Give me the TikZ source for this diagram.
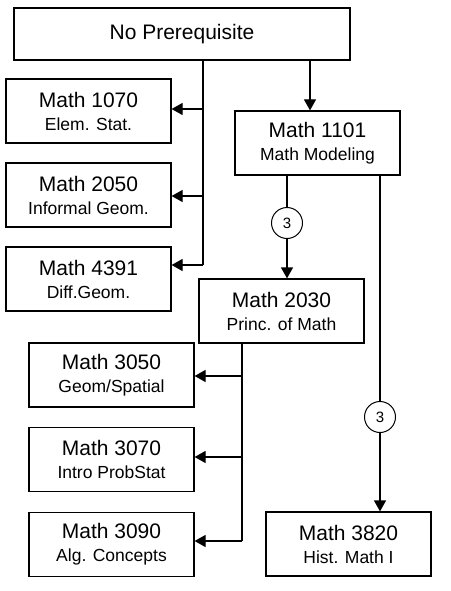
\documentclass[tikz,border=0pt]{standalone}
\usepackage{fontspec}
\setmainfont{Liberation Sans}
\usetikzlibrary{arrows.meta}
\newcommand{\crs}[2]{#1\\[-2pt]{\fontsize{17.5}{21}\selectfont #2}}
\tikzset{
  every path/.style={line width=1.2pt},
  box/.style={draw, line width=1.2pt, minimum width=165pt, minimum height=64pt, inner sep=0pt, align=center, font=\fontsize{21}{25}\selectfont},
  num/.style={draw, circle, line width=1pt, minimum size=31pt, inner sep=0pt, font=\fontsize{15}{18}\selectfont},
  arr/.style={-{Triangle[length=11pt,width=12pt]}},
}
\begin{document}
\begin{tikzpicture}[x=1pt,y=-1pt]
\useasboundingbox (0,0) rectangle (450,591);
\node[box, minimum width=336pt, minimum height=52pt] (np) at (182,34) {No Prerequisite};
\node[box] (m1070) at (88.5,111) {\crs{Math 1070}{Elem. Stat.}};
\node[box] (m2050) at (88.5,195) {\crs{Math 2050}{Informal Geom.}};
\node[box] (m4391) at (88.5,279) {\crs{Math 4391}{Diff.Geom.}};
\node[box] (m1101) at (317.5,143) {\crs{Math 1101}{Math Modeling}};
\node[box] (m2030) at (281.5,311) {\crs{Math 2030}{Princ. of Math}};
\node[box] (m3050) at (111.5,375) {\crs{Math 3050}{Geom/Spatial}};
\node[box] (m3070) at (111.5,459.5) {\crs{Math 3070}{Intro ProbStat}};
\node[box] (m3090) at (111.5,544.5) {\crs{Math 3090}{Alg. Concepts}};
\node[box] (m3820) at (348.5,544) {\crs{Math 3820}{Hist. Math I}};
\node[num] (c1) at (287,223) {3};
\node[num] (c2) at (380,417) {3};
% junctions
\coordinate (a1) at (203,109);
\coordinate (a2) at (203,196);
\coordinate (a3) at (203,265);
\coordinate (b1) at (310,0);
\coordinate (d1) at (242,376);
\coordinate (d2) at (242,457);
\coordinate (d3) at (242,541);
\draw (np.south -| a3) -- (a3);
\draw[arr] (a1) -- (m1070.east |- a1);
\draw[arr] (a2) -- (m2050.east |- a2);
\draw[arr] (a3) -- (m4391.east |- a3);
\draw[arr] (np.south -| b1) -- (m1101.north -| b1);
\draw (m1101.south -| c1) -- (c1);
\draw[arr] (c1) -- (m2030.north -| c1);
\draw (m1101.south -| c2) -- (c2);
\draw[arr] (c2) -- (m3820.north -| c2);
\draw (m2030.south -| d3) -- (d3);
\draw[arr] (d1) -- (m3050.east |- d1);
\draw[arr] (d2) -- (m3070.east |- d2);
\draw[arr] (d3) -- (m3090.east |- d3);
\end{tikzpicture}
\end{document}
